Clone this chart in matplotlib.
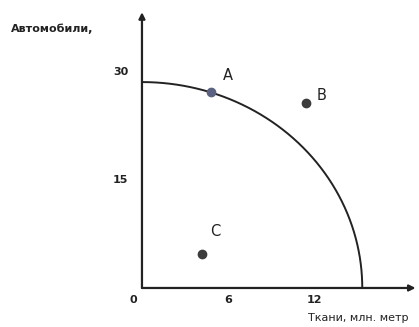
import numpy as np
import matplotlib
matplotlib.use('Agg')
import matplotlib.pyplot as plt

# values
x_label = 'Ткани, млн. метр'
y_label = 'Автомобили,'
x_ticks = [0, 6, 12]
y_ticks = [15, 30]
frontier_x_max = 15.3     # where the frontier meets the x axis
frontier_y_max = 28.6     # where the frontier meets the y axis
point_names = ['A', 'B', 'C']
point_x = [4.8, 11.4, 4.2]
point_y = [27.2, 25.7, 4.7]
point_colors = ['#5b6180', '#3c3c3c', '#3c3c3c']

fig = plt.figure(figsize=(4.19, 3.27), dpi=100)
ax = fig.add_axes([0, 0, 1, 1])
ax.set_xlim(-9.86, 19.24)
ax.set_ylim(-5.42, 40.0)
ax.set_axis_off()

ink = '#222222'
arrow = dict(arrowstyle='-|>', lw=1.6, color=ink, mutation_scale=9, shrinkA=0, shrinkB=0)
ax.annotate('', xy=(0, 38.3), xytext=(0, 0), arrowprops=arrow)
ax.annotate('', xy=(19.0, 0), xytext=(0, 0), arrowprops=arrow)

# production possibility frontier (quarter ellipse through the two intercepts)
t = np.linspace(0, np.pi / 2, 200)
ax.plot(frontier_x_max * np.sin(t), frontier_y_max * np.cos(t), color=ink, lw=1.4)

for name, x, y, c in zip(point_names, point_x, point_y, point_colors):
    ax.plot(x, y, 'o', ms=6, color=c)
offsets = {'A': (1.2, 2.3), 'B': (1.1, 1.1), 'C': (0.9, 3.2)}
for name, x, y in zip(point_names, point_x, point_y):
    dx, dy = offsets[name]
    ax.text(x + dx, y + dy, name, fontsize=10.5, ha='center', va='center', color=ink)

tick_font = dict(fontsize=8, fontweight='bold', color=ink)
for v in x_ticks:
    ax.text(v - 0.6 if v == 0 else v, -1.7, str(v), ha='center', va='center', **tick_font)
for v in y_ticks:
    ax.text(-0.95, v, str(v), ha='right', va='center', **tick_font)

ax.text(-6.25, 36.0, y_label, ha='center', va='center', fontsize=8, fontweight='bold', color=ink)
ax.text(18.5, -4.2, x_label, ha='right', va='center', fontsize=8, color=ink)

fig.savefig('out.png', dpi=100)
